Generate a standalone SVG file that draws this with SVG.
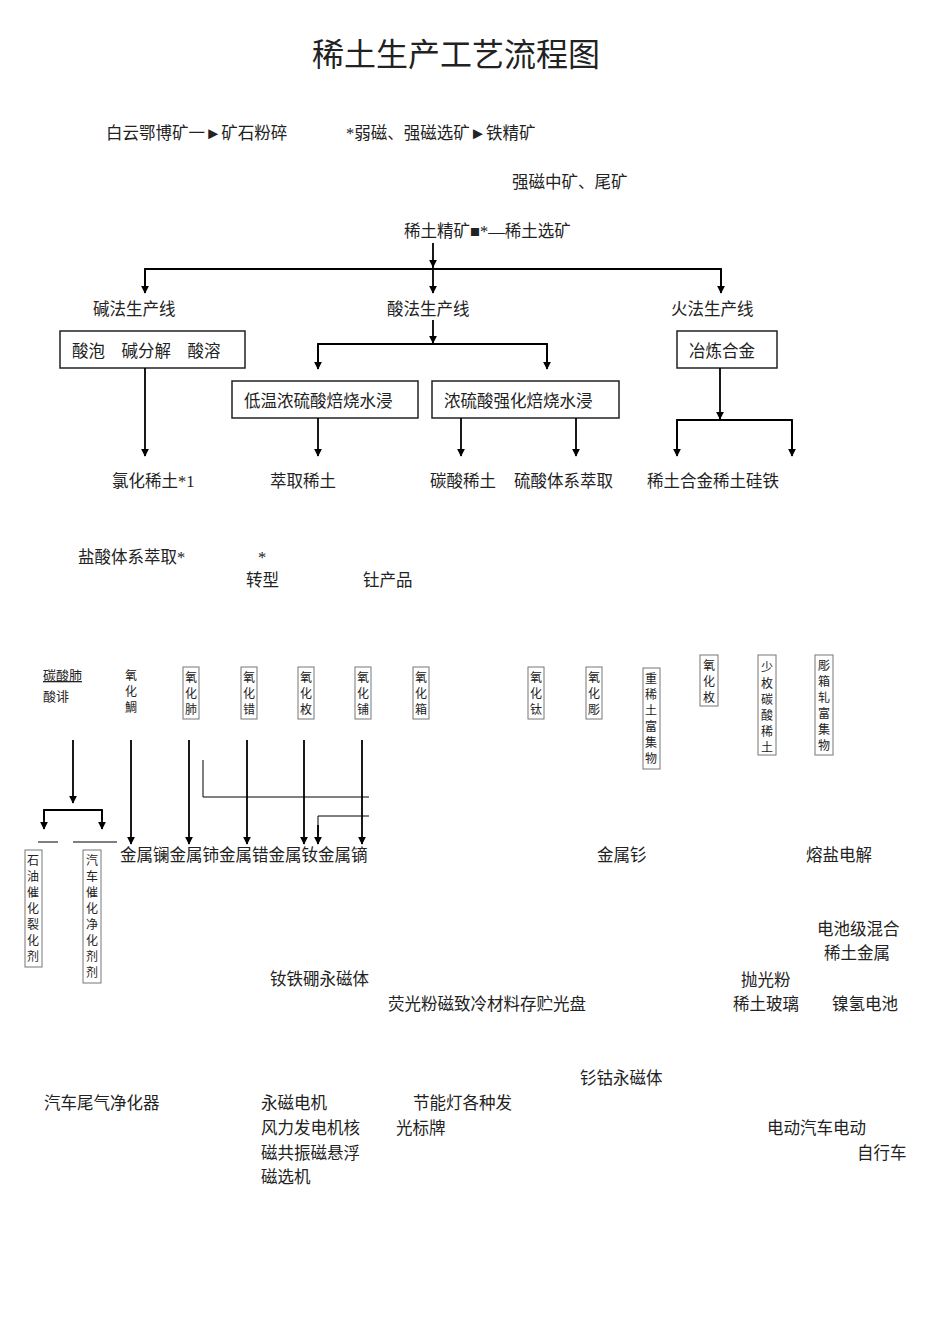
<svg xmlns="http://www.w3.org/2000/svg" width="950" height="1344" viewBox="0 0 950 1344">
<defs><marker id="a" viewBox="0 0 10 10" refX="9" refY="5" markerWidth="8" markerHeight="8" orient="auto" markerUnits="userSpaceOnUse"><path d="M0,0L10,5L0,10z" fill="#000"/></marker></defs>
<style>
text{font-family:"Liberation Serif","Noto Sans CJK SC",serif;font-size:16.5px;fill:#222}
.v{font-family:"Noto Sans CJK SC",sans-serif;font-size:12px}
.b{fill:none;stroke:#222;stroke-width:1.5}
.vb{fill:none;stroke:#777;stroke-width:1}
.c line,.c polyline{stroke:#000;stroke-width:1.8;fill:none}
.ar{marker-end:url(#a)}
</style>
<rect width="950" height="1344" fill="#fff"/>
<text x="456" y="66" text-anchor="middle" style="font-size:32px">稀土生产工艺流程图</text>
<g id="top">
<text x="106" y="139">白云鄂博矿一►矿石粉碎</text>
<text x="346" y="139">*弱磁、强磁选矿►铁精矿</text>
<text x="512" y="188">强磁中矿、尾矿</text>
<text x="404" y="237">稀土精矿■*—稀土选矿</text>
<text x="93" y="315">碱法生产线</text>
<text x="387" y="315">酸法生产线</text>
<text x="671" y="315">火法生产线</text>
</g>
<g id="boxes">
<rect class="b" x="60" y="331" width="185" height="37"/><text x="72" y="357">酸泡　碱分解　酸溶</text>
<rect class="b" x="677" y="331" width="100" height="37"/><text x="689" y="357">冶炼合金</text>
<rect class="b" x="232" y="381" width="186" height="37"/><text x="244" y="407">低温浓硫酸焙烧水浸</text>
<rect class="b" x="432" y="381" width="187" height="37"/><text x="444" y="407">浓硫酸强化焙烧水浸</text>
</g>
<g id="products">
<text x="112" y="487">氯化稀土*1</text>
<text x="270" y="487">萃取稀土</text>
<text x="430" y="487">碳酸稀土</text>
<text x="514" y="487">硫酸体系萃取</text>
<text x="647" y="487">稀土合金稀土硅铁</text>
<text x="78" y="563">盐酸体系萃取*</text>
<text x="258" y="563">*</text>
<text x="246" y="586">转型</text>
<text x="363" y="586">钍产品</text>
</g>
<g class="c">
<line class="ar" x1="433" y1="243" x2="433" y2="267"/>
<polyline points="145,292 145,269 721,269 721,292"/>
<line class="ar" x1="145" y1="269" x2="145" y2="293"/>
<line class="ar" x1="433" y1="267" x2="433" y2="293"/>
<line class="ar" x1="721" y1="269" x2="721" y2="293"/>
<line class="ar" x1="433" y1="320" x2="433" y2="343"/>
<polyline points="318,368 318,344 547,344 547,368"/>
<line class="ar" x1="318" y1="344" x2="318" y2="369"/>
<line class="ar" x1="547" y1="344" x2="547" y2="369"/>
<line class="ar" x1="145" y1="368" x2="145" y2="456"/>
<line class="ar" x1="318" y1="418" x2="318" y2="456"/>
<line class="ar" x1="461" y1="418" x2="461" y2="456"/>
<line class="ar" x1="576" y1="418" x2="576" y2="456"/>
<line class="ar" x1="720" y1="368" x2="720" y2="419"/>
<polyline points="677,455 677,420 792,420 792,455"/>
<line class="ar" x1="677" y1="420" x2="677" y2="456"/>
<line class="ar" x1="792" y1="420" x2="792" y2="456"/>
<line class="ar" x1="73" y1="740" x2="73" y2="803"/>
<polyline points="44,820 44,810 102,810 102,820"/>
<line class="ar" x1="44" y1="810" x2="44" y2="829"/>
<line class="ar" x1="102" y1="810" x2="102" y2="829"/>
<line x1="38" y1="842" x2="58" y2="842" style="stroke-width:1"/>
<line x1="73" y1="842" x2="117" y2="842" style="stroke-width:1"/>
<line class="ar" x1="131" y1="740" x2="131" y2="844"/>
<line class="ar" x1="189" y1="740" x2="189" y2="844"/>
<line class="ar" x1="247" y1="740" x2="247" y2="844"/>
<line class="ar" x1="304" y1="740" x2="304" y2="844"/>
<line class="ar" x1="362" y1="740" x2="362" y2="844"/>
<polyline points="203,760 203,797 369,797" style="stroke-width:1"/>
<polyline points="369,816 318,816 318,835" style="stroke-width:1"/>
<line class="ar" x1="318" y1="825" x2="318" y2="844"/>
</g>
<g id="oxides">
<text x="43" y="680" style="font-size:13px;text-decoration:underline">碳酸肺</text>
<text x="43" y="701" style="font-size:13px">酸诽</text>
<text class="v" x="125" y="680">氧</text><text class="v" x="125" y="696">化</text><text class="v" x="125" y="712">鯛</text>
<g><rect class="vb" x="183" y="667" width="16" height="52"/><text class="v" x="185" y="682">氧</text><text class="v" x="185" y="698">化</text><text class="v" x="185" y="714">肺</text></g>
<g><rect class="vb" x="241" y="667" width="16" height="52"/><text class="v" x="243" y="682">氧</text><text class="v" x="243" y="698">化</text><text class="v" x="243" y="714">错</text></g>
<g><rect class="vb" x="298" y="667" width="16" height="52"/><text class="v" x="300" y="682">氧</text><text class="v" x="300" y="698">化</text><text class="v" x="300" y="714">枚</text></g>
<g><rect class="vb" x="355" y="667" width="16" height="52"/><text class="v" x="357" y="682">氧</text><text class="v" x="357" y="698">化</text><text class="v" x="357" y="714">铺</text></g>
<g><rect class="vb" x="413" y="667" width="16" height="52"/><text class="v" x="415" y="682">氧</text><text class="v" x="415" y="698">化</text><text class="v" x="415" y="714">箱</text></g>
<g><rect class="vb" x="528" y="667" width="16" height="52"/><text class="v" x="530" y="682">氧</text><text class="v" x="530" y="698">化</text><text class="v" x="530" y="714">钛</text></g>
<g><rect class="vb" x="586" y="667" width="16" height="52"/><text class="v" x="588" y="682">氧</text><text class="v" x="588" y="698">化</text><text class="v" x="588" y="714">彫</text></g>
<g><rect class="vb" x="643" y="668" width="17" height="101"/><text class="v" x="645" y="683">重</text><text class="v" x="645" y="699">稀</text><text class="v" x="645" y="715">土</text><text class="v" x="645" y="731">富</text><text class="v" x="645" y="747">集</text><text class="v" x="645" y="763">物</text></g>
<g><rect class="vb" x="700" y="655" width="18" height="51"/><text class="v" x="703" y="670">氧</text><text class="v" x="703" y="686">化</text><text class="v" x="703" y="702">枚</text></g>
<g><rect class="vb" x="758" y="655" width="18" height="100"/><text class="v" x="761" y="672">少</text><text class="v" x="761" y="688">枚</text><text class="v" x="761" y="704">碳</text><text class="v" x="761" y="720">酸</text><text class="v" x="761" y="736">稀</text><text class="v" x="761" y="752">土</text></g>
<g><rect class="vb" x="815" y="655" width="18" height="100"/><text class="v" x="818" y="670">彫</text><text class="v" x="818" y="686">箱</text><text class="v" x="818" y="702">轧</text><text class="v" x="818" y="718">富</text><text class="v" x="818" y="734">集</text><text class="v" x="818" y="750">物</text></g>
</g>
<g id="catalysts">
<rect class="vb" x="25" y="850" width="17" height="117"/>
<text class="v" x="27" y="865">石</text><text class="v" x="27" y="881">油</text><text class="v" x="27" y="897">催</text><text class="v" x="27" y="913">化</text><text class="v" x="27" y="929">裂</text><text class="v" x="27" y="945">化</text><text class="v" x="27" y="961">剂</text>
<rect class="vb" x="83" y="850" width="18" height="133"/>
<text class="v" x="86" y="865">汽</text><text class="v" x="86" y="881">车</text><text class="v" x="86" y="897">催</text><text class="v" x="86" y="913">化</text><text class="v" x="86" y="929">净</text><text class="v" x="86" y="945">化</text><text class="v" x="86" y="961">剂</text><text class="v" x="86" y="977">剂</text>
</g>
<g id="bottom">
<text x="120" y="861">金属镧金属铈金属错金属钕金属镝</text>
<text x="597" y="861">金属钐</text>
<text x="806" y="861">熔盐电解</text>
<text x="817" y="935">电池级混合</text>
<text x="824" y="959">稀土金属</text>
<text x="270" y="985">钕铁硼永磁体</text>
<text x="741" y="986">抛光粉</text>
<text x="388" y="1010">荧光粉磁致冷材料存贮光盘</text>
<text x="733" y="1010">稀土玻璃</text>
<text x="832" y="1010">镍氢电池</text>
<text x="580" y="1084">钐钴永磁体</text>
<text x="44" y="1109">汽车尾气净化器</text>
<text x="261" y="1109">永磁电机</text>
<text x="413" y="1109">节能灯各种发</text>
<text x="261" y="1134">风力发电机核</text>
<text x="396" y="1134">光标牌</text>
<text x="767" y="1134">电动汽车电动</text>
<text x="261" y="1159">磁共振磁悬浮</text>
<text x="857" y="1159">自行车</text>
<text x="261" y="1183">磁选机</text>
</g>
</svg>
